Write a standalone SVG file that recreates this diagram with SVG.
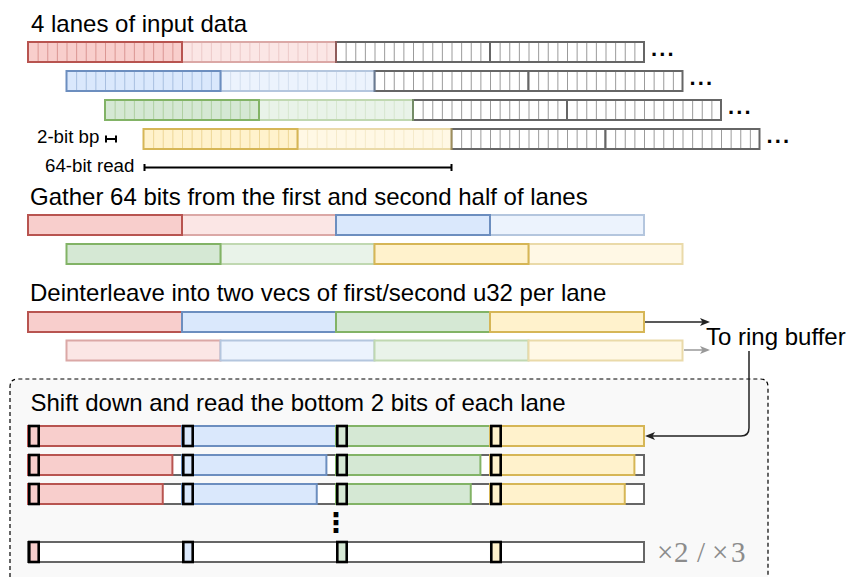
<svg xmlns="http://www.w3.org/2000/svg" width="852" height="577" viewBox="0 0 852 577">
<style>
text{font-family:"Liberation Sans",Arial,sans-serif;fill:#000}
.h{font-size:24px}
.s{font-size:18.7px}
.dots{font-size:22px;font-weight:bold;letter-spacing:2.2px}
rect{stroke-width:2}
.r{fill:#f8cecc;stroke:#b85450}
.b{fill:#dae8fc;stroke:#6c8ebf}
.g{fill:#d5e8d4;stroke:#82b366}
.y{fill:#fff2cc;stroke:#d6b656}
.k{fill:#fff;stroke:#666}
.lt{opacity:0.5}
.dv{stroke-width:18;stroke-dasharray:1 8.625;stroke-opacity:0.45;fill:none}
.k.dv{stroke-opacity:0.65}
.bx{stroke:#000;stroke-width:2.6}
.ms{font-family:"Liberation Serif","DejaVu Serif",serif;font-size:29px;fill:#8c8c8c}
</style>
<defs>
<marker id="ah" markerUnits="userSpaceOnUse" markerWidth="10" markerHeight="8" viewBox="0 0 10 8" refX="3" refY="4" orient="auto"><path d="M0,0 L10,4 L0,8 L2.5,4 Z" fill="#222"/></marker>
<marker id="ahg" markerUnits="userSpaceOnUse" markerWidth="10" markerHeight="8" viewBox="0 0 10 8" refX="3" refY="4" orient="auto"><path d="M0,0 L10,4 L0,8 L2.5,4 Z" fill="#999"/></marker>
</defs>

<!-- Section 1: input lanes -->
<text id="t1" class="h" x="31" y="31.5">4 lanes of input data</text>

<g id="lane1">
<rect class="k" x="336" y="42" width="154" height="20"/><line class="k dv" x1="345.625" y1="52" x2="488" y2="52"/>
<rect class="k" x="490" y="42" width="154" height="20"/><line class="k dv" x1="499.625" y1="52" x2="642" y2="52"/>
<g class="lt"><rect class="r" x="182" y="42" width="154" height="20"/><line class="r dv" x1="191.625" y1="52" x2="334" y2="52"/></g>
<rect class="r" x="28" y="42" width="154" height="20"/><line class="r dv" x1="37.625" y1="52" x2="180" y2="52"/>
<text class="dots" x="651" y="56">...</text>
</g>
<g id="lane2">
<rect class="k" x="374.5" y="71" width="154" height="20"/><line class="k dv" x1="384.125" y1="81" x2="526.5" y2="81"/>
<rect class="k" x="528.5" y="71" width="154" height="20"/><line class="k dv" x1="538.125" y1="81" x2="680.5" y2="81"/>
<g class="lt"><rect class="b" x="220.5" y="71" width="154" height="20"/><line class="b dv" x1="230.125" y1="81" x2="372.5" y2="81"/></g>
<rect class="b" x="66.5" y="71" width="154" height="20"/><line class="b dv" x1="76.125" y1="81" x2="218.5" y2="81"/>
<text class="dots" x="689.5" y="85">...</text>
</g>
<g id="lane3">
<rect class="k" x="413" y="100" width="154" height="20"/><line class="k dv" x1="422.625" y1="110" x2="565" y2="110"/>
<rect class="k" x="567" y="100" width="154" height="20"/><line class="k dv" x1="576.625" y1="110" x2="719" y2="110"/>
<g class="lt"><rect class="g" x="259" y="100" width="154" height="20"/><line class="g dv" x1="268.625" y1="110" x2="411" y2="110"/></g>
<rect class="g" x="105" y="100" width="154" height="20"/><line class="g dv" x1="114.625" y1="110" x2="257" y2="110"/>
<text class="dots" x="728" y="114">...</text>
</g>
<g id="lane4">
<rect class="k" x="451.5" y="129" width="154" height="20"/><line class="k dv" x1="461.125" y1="139" x2="603.5" y2="139"/>
<rect class="k" x="605.5" y="129" width="154" height="20"/><line class="k dv" x1="615.125" y1="139" x2="757.5" y2="139"/>
<g class="lt"><rect class="y" x="297.5" y="129" width="154" height="20"/><line class="y dv" x1="307.125" y1="139" x2="449.5" y2="139"/></g>
<rect class="y" x="143.5" y="129" width="154" height="20"/><line class="y dv" x1="153.125" y1="139" x2="295.5" y2="139"/>
<text class="dots" x="766.5" y="143">...</text>
</g>

<g id="bp-label">
<text class="s" x="37" y="143">2-bit bp</text>
<path d="M106,139 H116 M106,135.5 V142.5 M116,135.5 V142.5" stroke="#000" stroke-width="2" fill="none"/>
</g>
<g id="read-label">
<text class="s" x="45" y="172">64-bit read</text>
<path d="M144.5,167.5 H451.5 M144.5,164 V171 M451.5,164 V171" stroke="#000" stroke-width="2" fill="none"/>
</g>

<!-- Section 2: gather -->
<text id="t2" class="h" x="30" y="204.5">Gather 64 bits from the first and second half of lanes</text>
<g id="gather1">
<g class="lt"><rect class="r" x="182" y="215" width="154" height="20"/><rect class="b" x="490" y="215" width="154" height="20"/></g>
<rect class="r" x="28" y="215" width="154" height="20"/>
<rect class="b" x="336" y="215" width="154" height="20"/>
</g>
<g id="gather2">
<g class="lt"><rect class="g" x="220.5" y="244" width="154" height="20"/><rect class="y" x="528.5" y="244" width="154" height="20"/></g>
<rect class="g" x="66.5" y="244" width="154" height="20"/>
<rect class="y" x="374.5" y="244" width="154" height="20"/>
</g>

<!-- Section 3: deinterleave -->
<text id="t3" class="h" x="30" y="301">Deinterleave into two vecs of first/second u32 per lane</text>
<g id="vec1">
<rect class="r" x="28" y="312" width="154" height="20"/>
<rect class="b" x="182" y="312" width="154" height="20"/>
<rect class="g" x="336" y="312" width="154" height="20"/>
<rect class="y" x="490" y="312" width="154" height="20"/>
</g>
<g id="vec2" class="lt">
<rect class="r" x="66.5" y="340.5" width="154" height="20"/>
<rect class="b" x="220.5" y="340.5" width="154" height="20"/>
<rect class="g" x="374.5" y="340.5" width="154" height="20"/>
<rect class="y" x="528.5" y="340.5" width="154" height="20"/>
</g>
<text id="ring" class="h" x="706" y="345">To ring buffer</text>

<!-- Section 4: shift box -->
<g id="shift-box">
<path d="M10,577 V387 Q10,379 18,379 H760 Q768,379 768,387 V577" fill="#f9f9f9" stroke="#000" stroke-width="1.2" stroke-dasharray="4 3"/>
<text class="h" x="30.5" y="411">Shift down and read the bottom 2 bits of each lane</text>
</g>
<g id="rowE">
<rect class="r" x="28" y="426" width="154" height="20"/>
<rect class="b" x="182" y="426" width="154" height="20"/>
<rect class="g" x="336" y="426" width="154" height="20"/>
<rect class="y" x="490" y="426" width="154" height="20"/>
<rect class="r bx" x="29.3" y="426" width="9.4" height="20"/>
<rect class="b bx" x="183.3" y="426" width="9.4" height="20"/>
<rect class="g bx" x="337.3" y="426" width="9.4" height="20"/>
<rect class="y bx" x="491.3" y="426" width="9.4" height="20"/>
</g>
<g id="rowF">
<rect class="k" x="28" y="455" width="616" height="20"/>
<rect class="r" x="28" y="455" width="144.4" height="20"/>
<rect class="b" x="182" y="455" width="144.4" height="20"/>
<rect class="g" x="336" y="455" width="144.4" height="20"/>
<rect class="y" x="490" y="455" width="144.4" height="20"/>
<rect class="r bx" x="29.3" y="455" width="9.4" height="20"/>
<rect class="b bx" x="183.3" y="455" width="9.4" height="20"/>
<rect class="g bx" x="337.3" y="455" width="9.4" height="20"/>
<rect class="y bx" x="491.3" y="455" width="9.4" height="20"/>
</g>
<g id="rowG">
<rect class="k" x="28" y="484" width="616" height="20"/>
<rect class="r" x="28" y="484" width="134.75" height="20"/>
<rect class="b" x="182" y="484" width="134.75" height="20"/>
<rect class="g" x="336" y="484" width="134.75" height="20"/>
<rect class="y" x="490" y="484" width="134.75" height="20"/>
<rect class="r bx" x="29.3" y="484" width="9.4" height="20"/>
<rect class="b bx" x="183.3" y="484" width="9.4" height="20"/>
<rect class="g bx" x="337.3" y="484" width="9.4" height="20"/>
<rect class="y bx" x="491.3" y="484" width="9.4" height="20"/>
</g>
<text id="vdots" x="336" y="532" text-anchor="middle" style="font-family:'DejaVu Sans',sans-serif;font-size:27px;font-weight:bold">⋮</text>
<g id="rowH">
<rect class="k" x="28" y="542" width="616" height="20"/>
<rect class="r bx" x="29.3" y="542" width="9.4" height="20"/>
<rect class="b bx" x="183.3" y="542" width="9.4" height="20"/>
<rect class="g bx" x="337.3" y="542" width="9.4" height="20"/>
<rect class="y bx" x="491.3" y="542" width="9.4" height="20"/>
</g>
<text id="times" class="ms" y="562"><tspan x="657">×</tspan><tspan x="674">2</tspan><tspan x="697">/</tspan><tspan x="712">×</tspan><tspan x="731">3</tspan></text>

<!-- Connectors -->
<g id="connectors" fill="none" stroke-width="1.5">
<path d="M645,322 H703" stroke="#222" marker-end="url(#ah)"/>
<path d="M684,350 H703" stroke="#999" marker-end="url(#ahg)"/>
<path d="M749,351 V428 Q749,436 741,436 H652" stroke="#222" marker-end="url(#ah)"/>
</g>
</svg>
